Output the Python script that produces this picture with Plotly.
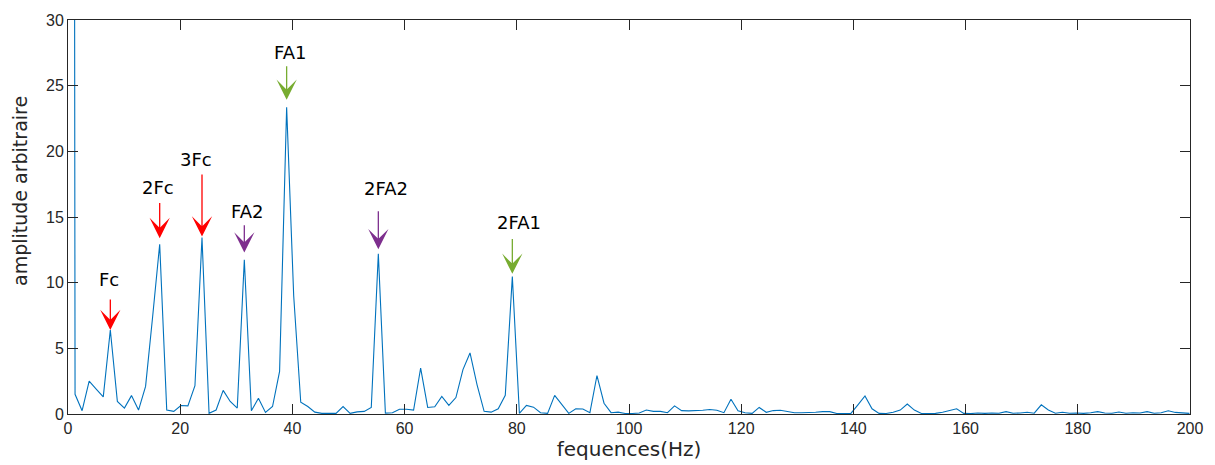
import numpy as np
import plotly.graph_objects as go

# Spectrum bins (Hz step between FFT bins) and amplitudes
df = 1.2572
amplitude = [
    480.0, 1.5, 0.25, 2.5, 1.9, 1.3, 6.4, 0.95, 0.45, 1.4,
    0.3, 2.1, 7.4, 12.93, 0.3, 0.2, 0.65, 0.62, 2.15, 13.44,
    0.05, 0.3, 1.8, 0.95, 0.45, 11.74, 0.25, 1.2, 0.12, 0.57,
    3.25, 23.35, 9.0, 0.9, 0.57, 0.14, 0.05, 0.03, 0.05, 0.57,
    0.05, 0.16, 0.2, 0.5, 12.2, 0.07, 0.1, 0.36, 0.36, 0.3,
    3.5, 0.5, 0.55, 1.33, 0.65, 1.25, 3.38, 4.65, 2.22, 0.2,
    0.14, 0.4, 1.42, 10.46, 0.05, 0.65, 0.52, 0.1, 0.05, 1.42,
    0.7, 0.05, 0.4, 0.38, 0.1, 2.93, 0.82, 0.1, 0.14, 0.04,
    0.04, 0.07, 0.3, 0.2, 0.2, 0.1, 0.62, 0.26, 0.24, 0.24,
    0.29, 0.34, 0.29, 0.1, 1.13, 0.24, 0.1, 0.05, 0.5, 0.13,
    0.26, 0.29, 0.2, 0.1, 0.1, 0.1, 0.13, 0.18, 0.18, 0.04,
    0.04, 0.05, 0.7, 1.38, 0.4, 0.05, 0.04, 0.13, 0.3, 0.76,
    0.3, 0.04, 0.04, 0.05, 0.13, 0.26, 0.4, 0.05, 0.03, 0.08,
    0.05, 0.08, 0.06, 0.18, 0.06, 0.08, 0.13, 0.06, 0.7, 0.3,
    0.06, 0.13, 0.06, 0.08, 0.05, 0.1, 0.18, 0.08, 0.06, 0.15,
    0.06, 0.1, 0.08, 0.18, 0.06, 0.1, 0.25, 0.12, 0.06, 0.05,
]
freq = np.arange(len(amplitude)) * df

# Labelled peaks: label, bin index, colour, arrow tip/tail heights, label height
peak_labels = ["Fc", "2Fc", "3Fc", "FA2", "FA1", "2FA2", "2FA1"]
peak_bins = [6, 13, 19, 25, 31, 44, 63]
peak_colors = ["#FF0000", "#FF0000", "#FF0000", "#7E2F8E", "#77AC30", "#7E2F8E", "#77AC30"]
arrow_tip = [6.40, 13.39, 13.51, 12.29, 23.93, 12.55, 10.67]
arrow_tail = [8.84, 16.18, 18.35, 14.48, 26.6, 15.55, 13.44]
label_y = [10.21, 17.25, 19.36, 15.42, 27.49, 17.15, 14.58]
label_dx = [-0.15, -0.35, -1.05, 0.42, 0.6, 1.3, 1.2]

AX_COLOR = "#262626"
FONT = "Liberation Sans, Arial, sans-serif"
WIDE_FONT = "DejaVu Sans, Verdana, sans-serif"

fig = go.Figure()
fig.add_trace(go.Scatter(
    x=freq, y=amplitude, mode="lines",
    line=dict(color="#0072BD", width=1.1),
    hoverinfo="x+y", showlegend=False,
))

annotations = []
for lab, b, col, tip, tail, ly, dx in zip(peak_labels, peak_bins, peak_colors,
                                          arrow_tip, arrow_tail, label_y, label_dx):
    f = freq[b]
    annotations.append(dict(
        x=f, y=tip, ax=f, ay=tail, xref="x", yref="y", axref="x", ayref="y",
        text="", showarrow=True, arrowhead=3, arrowsize=2.6, arrowwidth=1.3,
        arrowcolor=col, standoff=0, startstandoff=0,
    ))
    annotations.append(dict(
        x=f + dx, y=ly, xref="x", yref="y", text=lab, showarrow=False,
        font=dict(family=WIDE_FONT, size=18, color="#000000"),
        xanchor="center", yanchor="middle",
    ))

# y-axis label, placed beside the axis
annotations.append(dict(
    x=-0.0428, y=0.566, xref="paper", yref="paper",
    text="amplitude arbitraire", textangle=-90, showarrow=False,
    font=dict(family=WIDE_FONT, size=19, color=AX_COLOR),
    xanchor="center", yanchor="middle",
))

axis_common = dict(
    showline=True, linecolor=AX_COLOR, linewidth=1, mirror="ticks",
    ticks="inside", ticklen=10, tickwidth=1, tickcolor=AX_COLOR,
    showgrid=False, zeroline=False, automargin=False,
    tickfont=dict(family=FONT, size=16, color=AX_COLOR),
)

fig.update_layout(
    width=1215, height=465,
    margin=dict(l=68, r=25, t=20, b=51),
    paper_bgcolor="white", plot_bgcolor="white",
    xaxis=dict(
        range=[0, 200], tick0=0, dtick=20,
        title=dict(text="fequences(Hz)", standoff=2,
                   font=dict(family=WIDE_FONT, size=20, color=AX_COLOR)),
        **axis_common,
    ),
    yaxis=dict(range=[0, 30], tick0=0, dtick=5, **axis_common),
    annotations=annotations,
)

fig.write_html("out.html")
